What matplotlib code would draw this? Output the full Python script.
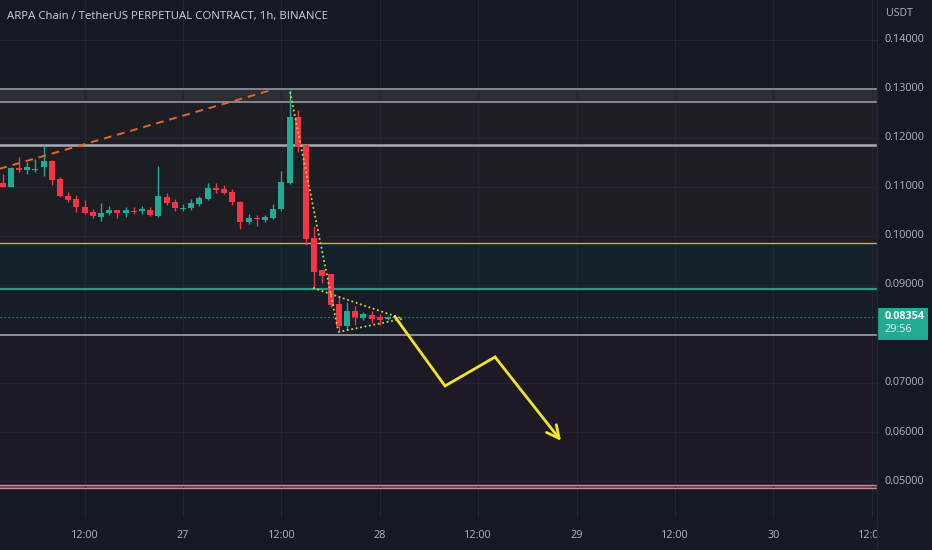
import numpy as np
import matplotlib
matplotlib.use("Agg")
import matplotlib.pyplot as plt
from matplotlib.patches import Rectangle

plt.rcParams['font.family'] = ['Open Sans', 'DejaVu Sans']

# ---------------- data ----------------
title = "ARPA Chain / TetherUS PERPETUAL CONTRACT, 1h, BINANCE"
# hours relative to 27th 00:00
hours = list(range(-22, 26))
opens = [0.1108, 0.1100, 0.1139, 0.1135, 0.1135, 0.1141, 0.1153, 0.1116, 0.1082, 0.1075,
         0.1059, 0.1049, 0.1039, 0.1047, 0.1053, 0.1047, 0.1051, 0.1051, 0.1053, 0.1041,
         0.1080, 0.1069, 0.1055, 0.1057, 0.1065, 0.1075, 0.1098, 0.1096, 0.1090, 0.1069,
         0.1029, 0.1037, 0.1033, 0.1037, 0.1055, 0.1108, 0.1243, 0.1186, 0.0996, 0.0931,
         0.0922, 0.0861, 0.0816, 0.0847, 0.0833, 0.0839, 0.0835, 0.0831]
highs = [0.1127, 0.1141, 0.1161, 0.1151, 0.1157, 0.1186, 0.1155, 0.1120, 0.1090, 0.1084,
         0.1073, 0.1055, 0.1067, 0.1061, 0.1053, 0.1059, 0.1059, 0.1061, 0.1059, 0.1143,
         0.1088, 0.1075, 0.1065, 0.1075, 0.1082, 0.1108, 0.1108, 0.1104, 0.1096, 0.1071,
         0.1045, 0.1043, 0.1043, 0.1065, 0.1133, 0.1298, 0.1257, 0.1186, 0.1020, 0.0931,
         0.0922, 0.0878, 0.0865, 0.0857, 0.0845, 0.0847, 0.0841, 0.0837]
lows = [0.1099, 0.1100, 0.1131, 0.1127, 0.1131, 0.1122, 0.1104, 0.1080, 0.1069, 0.1049,
        0.1045, 0.1037, 0.1031, 0.1043, 0.1037, 0.1039, 0.1045, 0.1045, 0.1041, 0.1039,
        0.1063, 0.1051, 0.1051, 0.1053, 0.1061, 0.1073, 0.1088, 0.1086, 0.1063, 0.1014,
        0.1024, 0.1020, 0.1029, 0.1035, 0.1051, 0.1106, 0.1171, 0.0982, 0.0894, 0.0904,
        0.0855, 0.0804, 0.0808, 0.0818, 0.0829, 0.0822, 0.0818, 0.0829]
closes = [0.1100, 0.1139, 0.1135, 0.1141, 0.1137, 0.1153, 0.1114, 0.1082, 0.1073, 0.1059,
          0.1047, 0.1041, 0.1047, 0.1053, 0.1047, 0.1053, 0.1049, 0.1055, 0.1043, 0.1082,
          0.1067, 0.1057, 0.1057, 0.1067, 0.1078, 0.1098, 0.1094, 0.1088, 0.1069, 0.1029,
          0.1037, 0.1035, 0.1039, 0.1055, 0.1110, 0.1243, 0.1182, 0.0994, 0.0927, 0.0918,
          0.0859, 0.0816, 0.0847, 0.0835, 0.0841, 0.0831, 0.0829, 0.08354]

last_price = 0.08354
countdown = "29:56"

price_ticks = [0.14, 0.13, 0.12, 0.11, 0.10, 0.09, 0.07, 0.06, 0.05]
price_tick_labels = ["0.14000", "0.13000", "0.12000", "0.11000", "0.10000",
                     "0.09000", "0.07000", "0.06000", "0.05000"]
grid_prices = [0.14, 0.13, 0.12, 0.11, 0.10, 0.09, 0.08, 0.07, 0.06, 0.05]
time_ticks = [-12, 0, 12, 24, 36, 48, 60, 72, 84]
time_labels = ["12:00", "27", "12:00", "28", "12:00", "29", "12:00", "30", "12:00"]

# horizontal levels / zones
lvl_top = 0.1300
lvl_top2 = 0.1274
lvl_res = 0.1186
lvl_orange = 0.0986
lvl_teal = 0.0892
lvl_sup = 0.0797
lvl_low1 = 0.0492
lvl_low2 = 0.0486

# drawings (hour, price)
orange_trend_h = [-22.4, 10.4]
orange_trend_p = [0.1137, 0.1296]
dot1_h = [13.05, 18.9]
dot1_p = [0.1294, 0.0808]
dot2_h = [15.85, 26.8]
dot2_p = [0.0894, 0.0831]
dot3_h = [18.9, 26.8]
dot3_p = [0.0804, 0.0831]
arrow_h = [25.85, 31.95, 38.05, 46.1]
arrow_p = [0.0835, 0.0694, 0.0753, 0.0582]

# ---------------- style ----------------
BG = "#151924"
GRID = "#222633"
TXT = "#b2b5be"
GREEN = "#22ab94"
RED = "#f23645"

W, H = 932, 550
fig = plt.figure(figsize=(W / 100, H / 100), dpi=100, facecolor=BG)

x0, x1 = -22.32, 84.63
y0, y1 = 0.04245, 0.14816
pane_w = 877
pane_h = 518

ax = fig.add_axes([0, 1 - pane_h / H, pane_w / W, pane_h / H])
ax.set_xlim(x0, x1)
ax.set_ylim(y0, y1)
ax.set_facecolor(BG)
for s in ax.spines.values():
    s.set_visible(False)
ax.set_xticks([])
ax.set_yticks([])

# zones
ax.axhspan(lvl_top2, lvl_top, color="#2d2e33", zorder=0.5, lw=0)
ax.axhspan(lvl_orange, lvl_top2, color="#1d1e23", zorder=0.5, lw=0)
ax.axhspan(lvl_teal, lvl_orange, color="#15212a", zorder=0.5, lw=0)
ax.axhspan(lvl_sup, lvl_teal, color="#171c27", zorder=0.5, lw=0)
ax.axhspan(lvl_low1, lvl_sup, color="#1d1a25", zorder=0.5, lw=0)
ax.axhspan(lvl_low2, lvl_low1, color="#5a3a48", zorder=0.6, lw=0)

# grid
for gp in grid_prices:
    ax.axhline(gp, color=GRID, lw=0.8, zorder=1)
for th in time_ticks:
    ax.axvline(th, color=GRID, lw=0.8, zorder=1)

# level lines
ax.axhline(lvl_top, color="#8c8f98", lw=1.3, zorder=2)
ax.axhline(lvl_top2, color="#8c8f98", lw=1.3, zorder=2)
ax.axhline(lvl_res, color="#a9acb5", lw=1.8, zorder=2)
ax.axhline(lvl_orange, color="#f7a21b", lw=1.0, zorder=2)
ax.axhline(lvl_teal, color="#1f9e8a", lw=1.6, zorder=2)
ax.axhline(lvl_sup, color="#8d909a", lw=1.4, zorder=2)
ax.axhline(lvl_low1, color="#c98793", lw=1.0, zorder=2)
ax.axhline(lvl_low2, color="#c98793", lw=1.0, zorder=2)
ax.axhline(last_price, color=GREEN, lw=0.9, ls=(0, (1, 2.2)), zorder=2)

# candles
cols = [GREEN if c >= o else RED for o, c in zip(opens, closes)]
ax.vlines(hours, lows, highs, colors=cols, lw=1.0, zorder=3)
bottoms = [min(o, c) for o, c in zip(opens, closes)]
heights = [max(abs(c - o), 0.00025) for o, c in zip(opens, closes)]
ax.bar(hours, heights, bottom=bottoms, width=0.72, color=cols, lw=0, zorder=4)

# drawings
ax.plot(orange_trend_h, orange_trend_p, color="#e0692a", lw=1.4,
        ls=(0, (4, 3)), zorder=5, solid_capstyle="butt")
dotc = "#c8d44a"
for hh, pp in [(dot1_h, dot1_p), (dot2_h, dot2_p), (dot3_h, dot3_p)]:
    ax.plot(hh, pp, color=dotc, lw=1.3, ls=(0, (1, 1.5)), zorder=6)

ax.plot(arrow_h[:3], arrow_p[:3], color="#f3e42a", lw=2.0, zorder=7,
        solid_joinstyle="miter")
ax.annotate("", xy=(arrow_h[3], arrow_p[3]), xytext=(arrow_h[2], arrow_p[2]),
            arrowprops=dict(arrowstyle="->,head_length=0.9,head_width=0.45",
                            color="#f3e42a", lw=2.0, shrinkA=0, shrinkB=0),
            zorder=7)

# title
fig.text(7 / W, 1 - 17 / H, title, color="#d1d4dc", fontsize=8.2,
         ha="left", va="center")

# time axis
tax = fig.add_axes([0, 0, pane_w / W, (H - pane_h) / H])
tax.set_xlim(x0, x1)
tax.set_ylim(0, 1)
tax.set_axis_off()
for th, tl in zip(time_ticks, time_labels):
    tax.text(th, 0.45, tl, color=TXT, fontsize=7.8, ha="center", va="center",
             clip_on=True)

# price axis
pax = fig.add_axes([pane_w / W, 1 - pane_h / H, (W - pane_w) / W, pane_h / H])
pax.set_xlim(0, 1)
pax.set_ylim(y0, y1)
pax.set_axis_off()
for pt, pl in zip(price_ticks, price_tick_labels):
    pax.text(0.14, pt, pl, color=TXT, fontsize=7.8, ha="left", va="center")
fig.text(886 / W, 1 - 14 / H, "USDT", color=TXT, fontsize=7.6,
         ha="left", va="center")
pax.add_patch(Rectangle((0.0, last_price - 0.0047), 0.93, 0.0064,
                        color=GREEN, lw=0, zorder=3, clip_on=False))
pax.text(0.14, last_price, "0.08354", color="white", fontsize=7.8,
         ha="left", va="center", fontweight="bold", zorder=4)
pax.text(0.14, last_price - 0.0027, countdown, color="#e8f5f2", fontsize=7.8,
         ha="left", va="center", zorder=4)

# separator line
fig.add_artist(plt.Line2D([pane_w / W, pane_w / W], [0, 1], color="#232733",
                          lw=1, transform=fig.transFigure))

fig.savefig("out.png", dpi=100, facecolor=BG)
